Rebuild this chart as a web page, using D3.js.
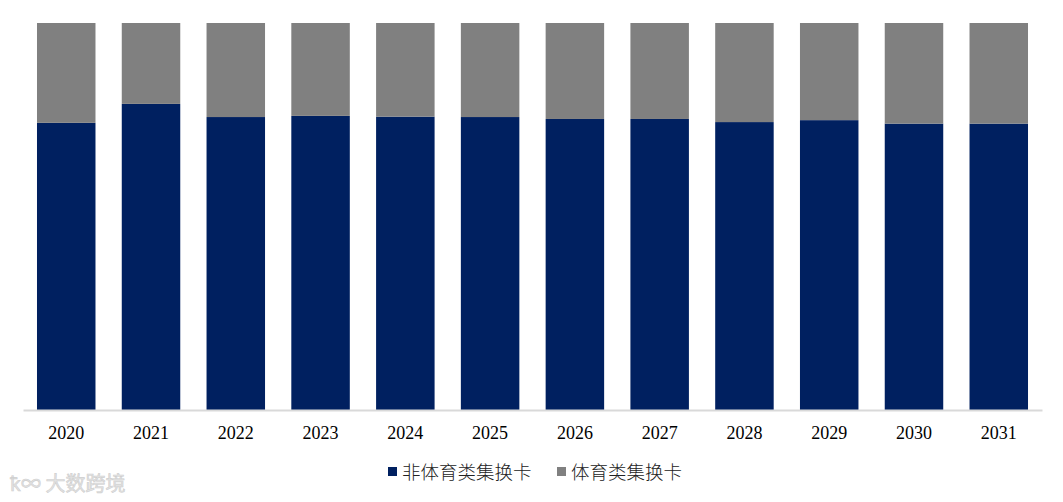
<!DOCTYPE html>
<html><head><meta charset="utf-8">
<script src="https://cdn.jsdelivr.net/npm/d3@7"></script>
<style>body{margin:0;background:#fff;}svg{display:block;}</style>
</head><body>
<script>
const years = ["2020","2021","2022","2023","2024","2025","2026","2027","2028","2029","2030","2031"];
const nonSports = [74.2,79.1,75.7,76.0,75.8,75.7,75.2,75.2,74.4,74.9,74.0,74.0];
const sports = nonSports.map(v => +(100 - v).toFixed(1));
const seriesNames = ["非体育类集换卡","体育类集换卡"];
const colors = ["#002060","#808080"];

const W = 1063, H = 502;
const svg = d3.select("body").append("svg").attr("width", W).attr("height", H);
const x = d3.scaleBand().domain(years).range([23, 1042]).paddingInner(0.31).paddingOuter(0.165);
const y = d3.scaleLinear().domain([0, 100]).range([410, 23]);

const rows = years.map((yr, i) => ({year: yr, a: nonSports[i], b: sports[i]}));
const stack = d3.stack().keys(["a","b"])(rows);
svg.selectAll("g.s").data(stack).join("g").attr("fill", (d,i) => colors[i])
  .selectAll("rect").data(d => d).join("rect")
  .attr("x", d => x(d.data.year)).attr("width", x.bandwidth())
  .attr("y", d => y(d[1])).attr("height", d => y(d[0]) - y(d[1]));

const ax = svg.append("g").attr("transform", "translate(0,410)")
  .call(d3.axisBottom(x).tickSize(0).tickPadding(16));
ax.select(".domain").attr("stroke", "#d9d9d9").attr("stroke-width", 2);
ax.selectAll("text").attr("font-family", "'Liberation Serif','Times New Roman',serif")
  .attr("font-size", 18).attr("fill", "#000");

// legend
const leg = svg.append("g");
const items = [{x: 388, t: seriesNames[0], c: colors[0]}, {x: 557, t: seriesNames[1], c: colors[1]}];
items.forEach(it => {
  leg.append("rect").attr("x", it.x).attr("y", 467).attr("width", 9).attr("height", 9).attr("fill", it.c);
  leg.append("text").attr("x", it.x + 14).attr("y", 479)
    .attr("font-family", "'Noto Sans CJK SC',sans-serif").attr("font-size", 18.5)
    .attr("font-weight", 300).attr("fill", "#222").text(it.t);
});

// watermark
svg.append("text").attr("x", 10).attr("y", 491)
  .attr("font-family", "'Noto Sans CJK SC',sans-serif").attr("font-size", 20)
  .attr("fill", "#e3e3e3").attr("stroke", "#cfcfcf").attr("stroke-width", 0.6).text("ꝁ∞ 大数跨境");
</script>
</body></html>
